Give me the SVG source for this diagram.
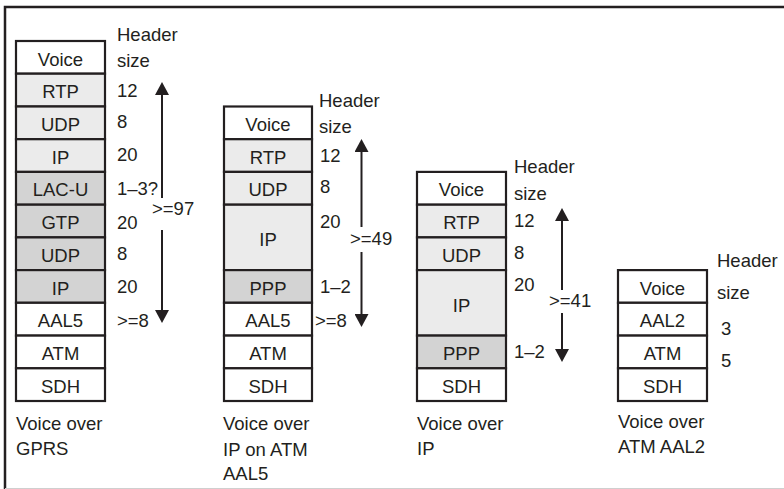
<svg xmlns="http://www.w3.org/2000/svg" width="784" height="489" viewBox="0 0 784 489">
  <style>
    text { font-family: "Liberation Sans", Arial, sans-serif; font-size: 18.5px; fill: #231f20; }
    .c { text-anchor: middle; }
    .cell { stroke: #231f20; stroke-width: 2.2; }
    .w { fill: #ffffff; }
    .l { fill: #ebebeb; }
    .d { fill: #d3d3d3; }
    .arr { stroke: #231f20; stroke-width: 2; fill: none; }
  </style>
  <defs>
    <marker id="head" viewBox="0 0 13 14" markerUnits="userSpaceOnUse" markerWidth="13" markerHeight="14" refX="5" refY="7" orient="auto">
      <path d="M0,0 L13,7 L0,14 z" fill="#231f20"/>
    </marker>
  </defs>

  <!-- frame -->
  <rect x="0" y="0" width="784" height="489" fill="#ffffff"/>
  <path d="M5,489 V7 H784" fill="none" stroke="#231f20" stroke-width="2.5"/>
  <line x1="5" y1="488.5" x2="784" y2="488.5" stroke="#cfcfcf" stroke-width="1"/>

  <!-- Voice over GPRS -->
  <g id="stack-gprs">
    <rect class="cell w" x="16" y="41" width="89" height="32.7"/>
    <rect class="cell l" x="16" y="73.7" width="89" height="32.8"/>
    <rect class="cell l" x="16" y="106.5" width="89" height="32.7"/>
    <rect class="cell l" x="16" y="139.2" width="89" height="32.7"/>
    <rect class="cell d" x="16" y="171.9" width="89" height="32.8"/>
    <rect class="cell d" x="16" y="204.7" width="89" height="32.7"/>
    <rect class="cell d" x="16" y="237.4" width="89" height="32.7"/>
    <rect class="cell d" x="16" y="270.1" width="89" height="32.7"/>
    <rect class="cell w" x="16" y="302.8" width="89" height="32.8"/>
    <rect class="cell w" x="16" y="335.6" width="89" height="32.7"/>
    <rect class="cell w" x="16" y="368.3" width="89" height="32.7"/>
    <text class="c" x="60.5" y="65.5">Voice</text>
    <text class="c" x="60.5" y="98.2">RTP</text>
    <text class="c" x="60.5" y="131">UDP</text>
    <text class="c" x="60.5" y="163.7">IP</text>
    <text class="c" x="60.5" y="196.4">LAC-U</text>
    <text class="c" x="60.5" y="229.2">GTP</text>
    <text class="c" x="60.5" y="261.9">UDP</text>
    <text class="c" x="60.5" y="294.6">IP</text>
    <text class="c" x="60.5" y="327.3">AAL5</text>
    <text class="c" x="60.5" y="360.1">ATM</text>
    <text class="c" x="60.5" y="392.8">SDH</text>
    <text x="117" y="41">Header</text>
    <text x="117" y="67">size</text>
    <text x="117" y="97">12</text>
    <text x="117" y="128">8</text>
    <text x="117" y="161">20</text>
    <text x="117" y="195">1–3?</text>
    <text x="117" y="229">20</text>
    <text x="117" y="260">8</text>
    <text x="117" y="293">20</text>
    <text x="117" y="327">&gt;=8</text>
    <text x="152" y="215">&gt;=97</text>
    <text x="16" y="430">Voice over</text>
    <text x="16" y="455">GPRS</text>
  </g>

  <!-- Voice over IP on ATM AAL5 -->
  <g id="stack-ip-atm-aal5">
    <rect class="cell w" x="224" y="106.5" width="88" height="32.7"/>
    <rect class="cell l" x="224" y="139.2" width="88" height="32.7"/>
    <rect class="cell l" x="224" y="171.9" width="88" height="32.8"/>
    <rect class="cell l" x="224" y="204.7" width="88" height="65.4"/>
    <rect class="cell d" x="224" y="270.1" width="88" height="32.7"/>
    <rect class="cell w" x="224" y="302.8" width="88" height="32.8"/>
    <rect class="cell w" x="224" y="335.6" width="88" height="32.7"/>
    <rect class="cell w" x="224" y="368.3" width="88" height="32.7"/>
    <text class="c" x="268" y="131">Voice</text>
    <text class="c" x="268" y="163.7">RTP</text>
    <text class="c" x="268" y="196.4">UDP</text>
    <text class="c" x="268" y="246">IP</text>
    <text class="c" x="268" y="294.6">PPP</text>
    <text class="c" x="268" y="327.3">AAL5</text>
    <text class="c" x="268" y="360.1">ATM</text>
    <text class="c" x="268" y="392.8">SDH</text>
    <text x="319" y="106.5">Header</text>
    <text x="319" y="133">size</text>
    <text x="320" y="162">12</text>
    <text x="320" y="193">8</text>
    <text x="320" y="228">20</text>
    <text x="320" y="293">1–2</text>
    <text x="315" y="327">&gt;=8</text>
    <text x="350" y="245">&gt;=49</text>
    <text x="223" y="430">Voice over</text>
    <text x="223" y="456">IP on ATM</text>
    <text x="223" y="480">AAL5</text>
  </g>

  <!-- Voice over IP -->
  <g id="stack-ip">
    <rect class="cell w" x="417" y="171.9" width="89" height="32.8"/>
    <rect class="cell l" x="417" y="204.7" width="89" height="32.7"/>
    <rect class="cell l" x="417" y="237.4" width="89" height="32.7"/>
    <rect class="cell l" x="417" y="270.1" width="89" height="65.5"/>
    <rect class="cell d" x="417" y="335.6" width="89" height="32.7"/>
    <rect class="cell w" x="417" y="368.3" width="89" height="32.7"/>
    <text class="c" x="461.5" y="196.4">Voice</text>
    <text class="c" x="461.5" y="229.2">RTP</text>
    <text class="c" x="461.5" y="261.9">UDP</text>
    <text class="c" x="461.5" y="311.5">IP</text>
    <text class="c" x="461.5" y="360.1">PPP</text>
    <text class="c" x="461.5" y="392.8">SDH</text>
    <text x="514" y="173">Header</text>
    <text x="514" y="200">size</text>
    <text x="514" y="227">12</text>
    <text x="514" y="259">8</text>
    <text x="514" y="291">20</text>
    <text x="514" y="358">1–2</text>
    <text x="549" y="307">&gt;=41</text>
    <text x="417" y="430">Voice over</text>
    <text x="417" y="455">IP</text>
  </g>

  <!-- Voice over ATM AAL2 -->
  <g id="stack-atm-aal2">
    <rect class="cell w" x="618" y="270.1" width="89" height="32.7"/>
    <rect class="cell w" x="618" y="302.8" width="89" height="32.8"/>
    <rect class="cell w" x="618" y="335.6" width="89" height="32.7"/>
    <rect class="cell w" x="618" y="368.3" width="89" height="32.7"/>
    <text class="c" x="662.5" y="294.6">Voice</text>
    <text class="c" x="662.5" y="327.3">AAL2</text>
    <text class="c" x="662.5" y="360.1">ATM</text>
    <text class="c" x="662.5" y="392.8">SDH</text>
    <text x="717" y="267">Header</text>
    <text x="717" y="299">size</text>
    <text x="721" y="335">3</text>
    <text x="721" y="367">5</text>
    <text x="618" y="428">Voice over</text>
    <text x="618" y="453">ATM AAL2</text>
  </g>

  <!-- header-size span arrows -->
  <g id="connectors">
    <line class="arr" x1="162" y1="198" x2="162" y2="90" marker-end="url(#head)"/>
    <line class="arr" x1="162" y1="230" x2="162" y2="315" marker-end="url(#head)"/>
    <line class="arr" x1="361.5" y1="227" x2="361.5" y2="147" marker-end="url(#head)"/>
    <line class="arr" x1="361.5" y1="252" x2="361.5" y2="319" marker-end="url(#head)"/>
    <line class="arr" x1="562" y1="290" x2="562" y2="216" marker-end="url(#head)"/>
    <line class="arr" x1="562" y1="313" x2="562" y2="354" marker-end="url(#head)"/>
  </g>
</svg>
